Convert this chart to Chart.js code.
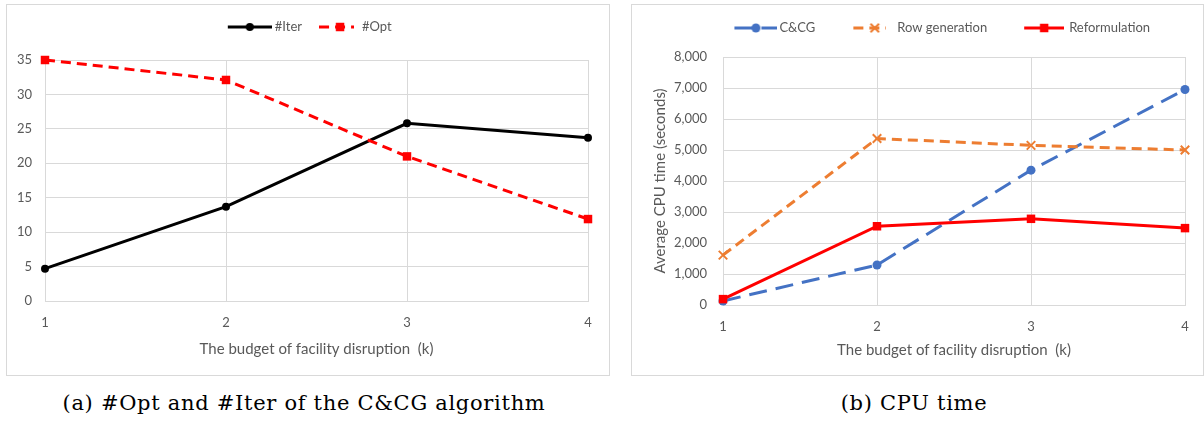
<!DOCTYPE html>
<html lang="en">
<head>
    <meta charset="UTF-8">
    <title>C&amp;CG results</title>
    <script src="https://cdn.jsdelivr.net/npm/chart.js"></script>
    <style>
        body {
            margin: 0;
            width: 1204px;
            height: 423px;
            background: #fff;
            position: relative;
            overflow: hidden;
        }
        .panel {
            position: absolute;
            top: 4px;
            height: 372px;
            border: 1px solid #d9d9d9;
            box-sizing: border-box;
        }
        #panelA { left: 6px; width: 604px; }
        #panelB { left: 631px; width: 573px; }
        .panel canvas { display: block; }
        .caption {
            position: absolute;
            top: 391px;
            line-height: 24px;
            font-family: "DejaVu Serif", serif;
            font-size: 21px;
            letter-spacing: 0.7px;
            color: #000;
            white-space: nowrap;
            transform: translateX(-50%);
        }
    </style>
</head>
<body>
    <div class="panel" id="panelA"><canvas id="optIterChart" width="602" height="370"></canvas></div>
    <div class="panel" id="panelB"><canvas id="cpuChart" width="571" height="370"></canvas></div>
    <div class="caption" style="left:304px">(a) #Opt and #Iter of the C&amp;CG algorithm</div>
    <div class="caption" style="left:914px">(b) CPU time</div>

    <script>
        // budget of facility disruption k
        const kLabels = ['1', '2', '3', '4'];

        // panel (a)
        const iterValues = [4.7, 13.7, 25.8, 23.7];
        const optValues = [35, 32.1, 21, 11.9];
        const countTicks = [0, 5, 10, 15, 20, 25, 30, 35];

        // panel (b), seconds
        const ccgTime = [130, 1290, 4350, 6950];
        const rowGenTime = [1610, 5370, 5150, 5000];
        const reformTime = [190, 2540, 2780, 2480];
        const cpuTicks = [0, 1000, 2000, 3000, 4000, 5000, 6000, 7000, 8000];

        const AXIS_GREY = '#d9d9d9';
        const TEXT_GREY = '#595959';
        const FONT = 'Lato';

        Chart.defaults.font.family = FONT;
        Chart.defaults.color = TEXT_GREY;

        function drawMarker(g, style, x, y, r, color) {
            g.fillStyle = color;
            g.strokeStyle = color;
            g.setLineDash([]);
            g.beginPath();
            if (style === 'circle') {
                g.arc(x, y, r, 0, Math.PI * 2);
                g.fill();
            } else if (style === 'rect') {
                const s = r * Math.SQRT1_2;
                g.fillRect(x - s, y - s, 2 * s, 2 * s);
            } else if (style === 'crossRot') {
                const s = r * Math.SQRT1_2;
                g.lineWidth = 2;
                g.moveTo(x - s, y - s); g.lineTo(x + s, y + s);
                g.moveTo(x + s, y - s); g.lineTo(x - s, y + s);
                g.stroke();
            }
        }

        // line + marker sample for the legend; drawn centred on the legend box,
        // so the canvas is padded on the left to put the sample right before the text
        function legendIcon(ds, spec, boxW, halfFont) {
            const w = Math.round(2 * (boxW / 2 + halfFont - spec.gap));
            const h = 14;
            const c = document.createElement('canvas');
            c.width = w;
            c.height = h;
            const g = c.getContext('2d');
            const x0 = w - spec.len;
            const y = h / 2;
            g.strokeStyle = ds.borderColor;
            g.lineWidth = ds.borderWidth;
            g.setLineDash(ds.borderDash || []);
            g.beginPath();
            g.moveTo(x0, y);
            g.lineTo(w, y);
            g.stroke();
            drawMarker(g, ds.pointStyle, x0 + spec.len * spec.mark, y, ds.pointRadius, ds.borderColor);
            return c;
        }

        // pins legend height and horizontal span so the plot area lands where it should
        const legendBox = {
            id: 'legendBox',
            beforeLayout(chart, args, opts) {
                const legend = chart.legend;
                if (legend && !legend._pinned) {
                    const fit = legend.fit;
                    legend.fit = function () {
                        fit.call(this);
                        this.height = opts.height;
                    };
                    legend._pinned = true;
                }
            },
            afterLayout(chart, args, opts) {
                chart.legend.left = opts.left;
                chart.legend.right = opts.right;
            }
        };

        function makeChart(id, cfg) {
            const labels = cfg.legend;
            return new Chart(document.getElementById(id), {
                type: 'line',
                data: { labels: kLabels, datasets: cfg.datasets },
                plugins: [legendBox],
                options: {
                    responsive: false,
                    animation: false,
                    layout: { padding: { left: 0, top: 0, right: cfg.padRight, bottom: 0 } },
                    elements: { line: { tension: 0 } },
                    plugins: {
                        tooltip: { enabled: false },
                        legendBox: cfg.legendBox,
                        legend: {
                            position: 'top',
                            labels: {
                                usePointStyle: true,
                                pointStyleWidth: labels.boxWidth,
                                padding: labels.padding,
                                color: TEXT_GREY,
                                font: { size: 13, family: FONT },
                                generateLabels(chart) {
                                    return chart.data.datasets.map((ds, i) => ({
                                        text: ds.label,
                                        datasetIndex: i,
                                        fillStyle: ds.borderColor,
                                        strokeStyle: ds.borderColor,
                                        lineWidth: 0,
                                        fontColor: TEXT_GREY,
                                        hidden: false,
                                        pointStyle: legendIcon(ds, labels.items[i], labels.boxWidth, 6.5)
                                    }));
                                }
                            }
                        }
                    },
                    scales: {
                        x: {
                            type: 'category',
                            offset: false,
                            grid: { color: AXIS_GREY, drawTicks: false },
                            border: { color: AXIS_GREY },
                            ticks: { padding: 14, font: { size: 13 }, color: TEXT_GREY },
                            title: {
                                display: true,
                                text: 'The budget of facility disruption  (k)',
                                color: TEXT_GREY,
                                font: { size: 15 },
                                padding: { top: 0, bottom: cfg.xTitlePad }
                            },
                            afterFit(scale) { scale.height = cfg.xHeight; }
                        },
                        y: {
                            min: cfg.yTicks[0],
                            max: cfg.yTicks[cfg.yTicks.length - 1],
                            grid: { color: AXIS_GREY, drawTicks: false },
                            border: { color: AXIS_GREY },
                            afterBuildTicks(scale) { scale.ticks = cfg.yTicks.map(v => ({ value: v })); },
                            ticks: {
                                padding: cfg.yTickPad,
                                font: { size: 13 },
                                color: TEXT_GREY,
                                callback: v => v.toLocaleString('en-US')
                            },
                            title: cfg.yTitle,
                            afterFit(scale) { scale.width = cfg.yWidth; }
                        }
                    }
                }
            });
        }

        makeChart('optIterChart', {
            datasets: [
                {
                    label: '#Iter',
                    data: iterValues,
                    borderColor: '#000000',
                    backgroundColor: '#000000',
                    borderWidth: 3,
                    pointStyle: 'circle',
                    pointRadius: 4,
                    pointBorderWidth: 0,
                    clip: false,
                    order: 2
                },
                {
                    label: '#Opt',
                    data: optValues,
                    borderColor: '#ff0000',
                    backgroundColor: '#ff0000',
                    borderWidth: 3,
                    borderDash: [10, 6],
                    pointStyle: 'rect',
                    pointRadius: 6,
                    pointBorderWidth: 0,
                    clip: false,
                    order: 1
                }
            ],
            legend: {
                boxWidth: 38,
                padding: 15.5,
                items: [
                    { len: 44, gap: 3, mark: 0.5 },
                    { len: 35, gap: 8, mark: 0.6 }
                ]
            },
            legendBox: { height: 55, left: 6, right: 602 },
            padRight: 21,
            xHeight: 74,
            xTitlePad: 17,
            yWidth: 38,
            yTickPad: 13,
            yTicks: countTicks,
            yTitle: { display: false }
        });

        makeChart('cpuChart', {
            datasets: [
                {
                    label: 'C&CG',
                    data: ccgTime,
                    borderColor: '#4472c4',
                    backgroundColor: '#4472c4',
                    borderWidth: 3,
                    borderDash: [18, 9],
                    pointStyle: 'circle',
                    pointRadius: 4.5,
                    pointBorderWidth: 0,
                    clip: false,
                    order: 3
                },
                {
                    label: 'Row generation',
                    data: rowGenTime,
                    borderColor: '#ed7d31',
                    backgroundColor: '#ed7d31',
                    borderWidth: 3,
                    borderDash: [10, 6],
                    pointStyle: 'crossRot',
                    pointRadius: 6,
                    pointBorderWidth: 2,
                    clip: false,
                    order: 2
                },
                {
                    label: 'Reformulation',
                    data: reformTime,
                    borderColor: '#ff0000',
                    backgroundColor: '#ff0000',
                    borderWidth: 3,
                    pointStyle: 'rect',
                    pointRadius: 6,
                    pointBorderWidth: 0,
                    clip: false,
                    order: 1
                }
            ],
            legend: {
                boxWidth: 59,
                padding: 16.5,
                items: [
                    { len: 43, gap: 2, mark: 0.5 },
                    { len: 33, gap: 11, mark: 0.65 },
                    { len: 40, gap: 5, mark: 0.5 }
                ]
            },
            legendBox: { height: 52, left: 29, right: 571 },
            padRight: 18,
            xHeight: 70,
            xTitlePad: 16,
            yWidth: 91,
            yTickPad: 16,
            yTicks: cpuTicks,
            yTitle: {
                display: true,
                text: 'Average CPU time (seconds)',
                color: TEXT_GREY,
                font: { size: 15 },
                padding: { top: 19, bottom: 0 }
            }
        });
    </script>
</body>
</html>
